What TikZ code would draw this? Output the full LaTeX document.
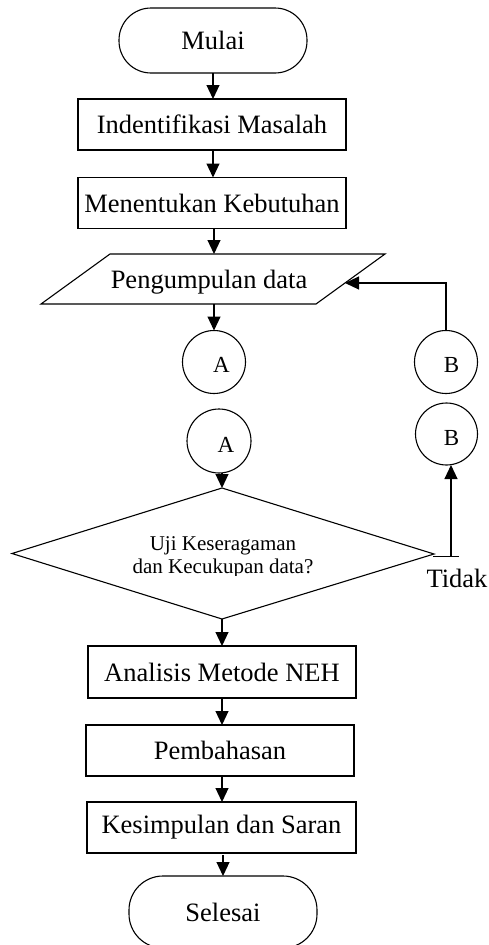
\documentclass[tikz,border=0pt]{standalone}
\usepackage{fontspec}
\setmainfont{Liberation Serif}
\usetikzlibrary{arrows.meta}
\begin{document}
\begin{tikzpicture}[x=1pt,y=-1pt,
  line width=1.1pt,
  every node/.style={inner sep=0pt, outer sep=0pt},
  proc/.style={draw, rectangle, minimum width=268pt, minimum height=51pt, font=\fontsize{26.5}{30}\selectfont},
  term/.style={draw, rectangle, rounded corners=32pt, minimum width=188pt, minimum height=65pt, font=\fontsize{26.5}{30}\selectfont},
  conn/.style={draw, circle, minimum size=63pt},
  lbl/.style={font=\fontsize{23}{26}\selectfont},
  txt/.style={font=\fontsize{26.5}{30}\selectfont},
  arr/.style={-{Triangle[width=13pt,length=14pt]}},
]
\useasboundingbox (0,0) rectangle (489,945);

% main nodes
\node[term] (mulai) at (213,40.5) {Mulai};
\node[proc] (iden) at (212,124.5) {Indentifikasi Masalah};
\node[proc] (men) at (212,203) {Menentukan Kebutuhan};

% parallelogram
\coordinate (ptl) at (110,254);
\coordinate (ptr) at (385,254);
\coordinate (pbr) at (316,304);
\coordinate (pbl) at (41,304);
\draw (ptl) -- (ptr) -- (pbr) -- (pbl) -- cycle;
\node[txt] (peng) at (209,282) {Pengumpulan data};
\coordinate (ptop) at (214,254);
\coordinate (pbot) at (214,304);
\coordinate (pright) at (345,283);

% connectors
\node[conn] (A1) at (214,362) {};
\node[lbl] (A1t) at (221.5,364.7) {A};
\node[conn] (B1) at (446,362) {};
\node[lbl] (B1t) at (451.5,365) {B};
\node[conn, minimum size=64pt] (A2) at (219,441) {};
\node[lbl] (A2t) at (226,444.5) {A};
\node[conn, minimum size=62pt] (B2) at (446.5,434) {};
\node[lbl] (B2t) at (451.5,437.5) {B};

% diamond
\coordinate (dtop) at (222,488);
\coordinate (dleft) at (12,553.5);
\coordinate (dright) at (434,554);
\coordinate (dbot) at (222,619);
\draw (dtop) -- (dright) -- (dbot) -- (dleft) -- cycle;
\begin{scope}
  \clip (0,480) rectangle (489,575.5);
  \node[align=center, font=\fontsize{21}{23}\selectfont] (dtext) at (223,557) {Uji Keseragaman\\dan Kecukupan data?};
\end{scope}

\coordinate (tstart) at (433,556.5);
\coordinate (tend) at (459,556.5);
\coordinate (tcorner) at (451,556.5);
\node[txt] (tidak) at (457,578) {Tidak};

\node[proc, minimum height=52pt] (ana) at (222,672) {Analisis Metode NEH};
\node[proc] (pem) at (220,750.5) {Pembahasan};
\node[proc, minimum width=269pt] (kes) at (221.5,827.5) {Kesimpulan dan Saran};
\node[term, minimum height=72pt, rounded corners=34pt] (sel) at (223,912) {Selesai};

% arrows
\draw[arr] (mulai.south) -- (iden.north -| mulai.south);
\draw[arr] (iden.south -| mulai.south) -- (men.north -| mulai.south);
\draw[arr] (men.south -| ptop) -- (ptop);
\draw[arr] (pbot) -- (A1.north);
\draw[arr] (B1.north) |- (pright);
\draw[arr] (dtop |- A2.south) -- (dtop);
\draw (tstart) -- (tend);
\draw[arr] (tcorner) -- (tcorner |- B2.south);
\draw[arr] (dbot) -- (ana.north -| dbot);
\draw[arr] (ana.south -| dbot) -- (pem.north -| dbot);
\draw[arr] (pem.south -| dbot) -- (kes.north -| dbot);
\draw[arr] ([yshift=-2pt]kes.south -| sel.north) -- (sel.north);
\end{tikzpicture}
\end{document}
